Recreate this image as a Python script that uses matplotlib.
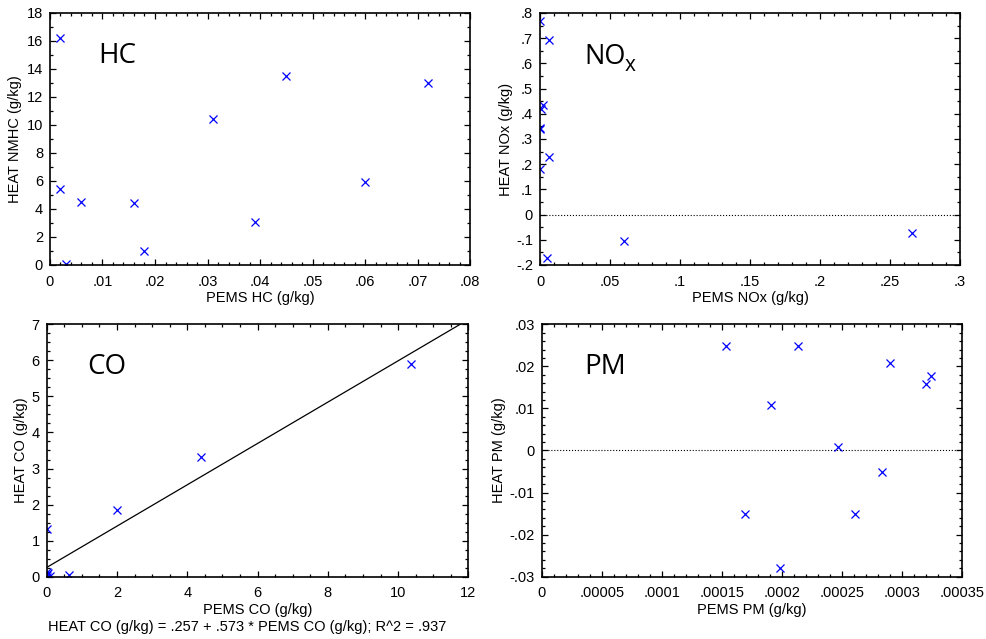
import matplotlib
matplotlib.use("Agg")
import matplotlib.pyplot as plt
from matplotlib.ticker import MultipleLocator, AutoMinorLocator, FuncFormatter
import numpy as np

plt.rcParams['font.family'] = ['Liberation Sans', 'DejaVu Sans']

# ---- data ----
hc_pems = [0.002, 0.002, 0.003, 0.006, 0.016, 0.018, 0.031, 0.039, 0.045, 0.060, 0.072]
hc_heat = [16.2, 5.4, 0.05, 4.5, 4.4, 1.0, 10.4, 3.05, 13.5, 5.9, 13.0]

nox_pems = [0.0, 0.0064, 0.002, 0.0005, 0.0, 0.0003, 0.0067, 0.0, 0.0052, 0.0602, 0.266]
nox_heat = [0.768, 0.694, 0.433, 0.418, 0.344, 0.340, 0.227, 0.180, -0.171, -0.105, -0.072]

co_pems = [0.02, 2.01, 4.39, 10.37, 0.62, 0.0, 0.02, 0.05, 0.10, 0.0]
co_heat = [1.32, 1.84, 3.32, 5.91, 0.05, 0.14, 0.05, 0.09, 0.03, 0.0]
co_intercept = 0.257
co_slope = 0.573

pm_pems = [0.0001533, 0.0002139, 0.0001911, 0.0002472, 0.0001694, 0.0001986,
           0.0002611, 0.0002833, 0.0002903, 0.0003200, 0.0003242]
pm_heat = [0.0248, 0.0248, 0.0109, 0.0009, -0.0151, -0.0280,
           -0.0151, -0.0052, 0.0209, 0.0158, 0.0177]


def fmt(v, pos=None):
    if abs(v) < 1e-12:
        return "0"
    s = f"{v:.6f}".rstrip('0').rstrip('.')
    if s.startswith("0."):
        s = s[1:]
    elif s.startswith("-0."):
        s = "-" + s[2:]
    return s


fig = plt.figure(figsize=(9.86, 6.39), dpi=100)

W = 0.426
H = 0.3944
ax_hc = fig.add_axes([0.0507, 0.5853, W, H])
ax_nox = fig.add_axes([0.5477, 0.5853, W, H])
ax_co = fig.add_axes([0.0474, 0.0975, 0.4276, 0.395])
ax_pm = fig.add_axes([0.5494, 0.0975, W, 0.395])

mk = dict(marker='x', linestyle='none', color='#0000ff', markersize=5.5, markeredgewidth=0.9)


def style(ax, xlim, ylim, xmaj, xmin_div, ymaj, ymin_div, xlabel, ylabel, ylx, xly):
    ax.set_xlim(*xlim)
    ax.set_ylim(*ylim)
    ax.xaxis.set_major_locator(MultipleLocator(xmaj))
    ax.yaxis.set_major_locator(MultipleLocator(ymaj))
    ax.xaxis.set_minor_locator(AutoMinorLocator(xmin_div))
    ax.yaxis.set_minor_locator(AutoMinorLocator(ymin_div))
    ax.xaxis.set_major_formatter(FuncFormatter(fmt))
    ax.yaxis.set_major_formatter(FuncFormatter(fmt))
    ax.tick_params(which='both', direction='in', top=True, right=True, labelsize=10.5,
                   width=0.9)
    ax.tick_params(axis='x', which='major', pad=7)
    ax.tick_params(axis='y', which='major', pad=5)
    ax.tick_params(which='major', length=4)
    ax.tick_params(which='minor', length=2)
    for sp in ax.spines.values():
        sp.set_linewidth(1.2)
    ax.set_xlabel(xlabel, fontsize=10.5)
    ax.set_ylabel(ylabel, fontsize=10.5)
    ax.yaxis.set_label_coords(ylx, 0.5)
    ax.xaxis.set_label_coords(0.5, xly)


# HC
ax_hc.plot(hc_pems, hc_heat, **mk)
style(ax_hc, (0, 0.08), (0, 18), 0.01, 5, 2, 2, "PEMS HC (g/kg)", "HEAT NMHC (g/kg)", -0.067, -0.103)
ax_hc.text(0.114, 0.83, "HC", transform=ax_hc.transAxes, fontsize=20,
           family=['Open Sans', 'DejaVu Sans'], va='center', ha='left')

# NOx
ax_nox.axhline(0, color='black', linestyle=':', linewidth=0.8)
ax_nox.plot(nox_pems, nox_heat, **mk)
style(ax_nox, (0, 0.3), (-0.2, 0.8), 0.05, 5, 0.1, 2, "PEMS NOx (g/kg)", "HEAT NOx (g/kg)", -0.064, -0.103)
ax_nox.text(0.105, 0.825, "NO", transform=ax_nox.transAxes, fontsize=19.5,
            family=['Open Sans', 'DejaVu Sans'], va='center', ha='left')
ax_nox.text(0.202, 0.79, "x", transform=ax_nox.transAxes, fontsize=15,
            family=['Open Sans', 'DejaVu Sans'], va='center', ha='left')

# CO
xs = np.array([0.0, (7 - co_intercept) / co_slope])
ax_co.plot(xs, co_intercept + co_slope * xs, color='black', linewidth=0.9)
ax_co.plot(co_pems, co_heat, **mk)
style(ax_co, (0, 12), (0, 7), 2, 4, 1, 4, "PEMS CO (g/kg)", "HEAT CO (g/kg)", -0.044, -0.104)
ax_co.text(0.095, 0.832, "CO", transform=ax_co.transAxes, fontsize=20,
           family=['Open Sans', 'DejaVu Sans'], va='center', ha='left')
fig.text(48 / 986, 1 - 627 / 639,
         "HEAT CO (g/kg) = .257 + .573 * PEMS CO (g/kg); R^2 = .937",
         fontsize=10.5, va='center', ha='left')

# PM
ax_pm.axhline(0, color='black', linestyle=':', linewidth=0.8)
ax_pm.plot(pm_pems, pm_heat, **mk)
style(ax_pm, (0, 0.00035), (-0.03, 0.03), 0.00005, 5, 0.01, 5, "PEMS PM (g/kg)", "HEAT PM (g/kg)", -0.086, -0.104)
ax_pm.text(0.101, 0.832, "PM", transform=ax_pm.transAxes, fontsize=20,
           family=['Open Sans', 'DejaVu Sans'], va='center', ha='left')

fig.savefig("out.png", dpi=100)
